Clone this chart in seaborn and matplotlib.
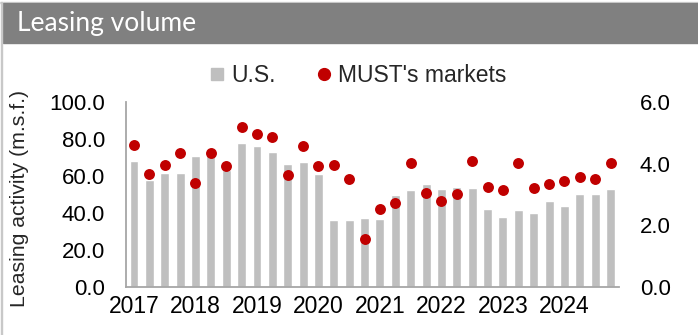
import numpy as np
import pandas as pd
import matplotlib
matplotlib.use("Agg")
import matplotlib.pyplot as plt
from matplotlib.lines import Line2D
from matplotlib.patches import Rectangle
from matplotlib.ticker import FormatStrFormatter
import seaborn as sns

# Quarterly leasing activity, 2017 Q1 - 2024 Q4
years = ["2017", "2018", "2019", "2020", "2021", "2022", "2023", "2024"]
quarters = [f"{y} Q{q}" for y in years for q in range(1, 5)]

# U.S. leasing volume (m.s.f., left axis)
us_volume = [68.1, 57.8, 61.4, 61.4, 70.8, 71.4, 63.2, 77.7,
             76.4, 72.8, 66.3, 67.4, 61.3, 36.4, 36.4, 37.5,
             36.9, 49.7, 52.6, 55.5, 53.1, 54.0, 53.7, 42.0,
             37.7, 41.8, 40.2, 46.5, 43.9, 50.3, 50.3, 53.1]

# MUST's markets leasing volume (m.s.f., right axis)
must_volume = [4.59, 3.68, 3.97, 4.34, 3.37, 4.34, 3.91, 5.19,
               4.95, 4.85, 3.63, 4.57, 3.92, 3.97, 3.51, 1.56,
               2.53, 2.71, 4.03, 3.06, 2.80, 3.03, 4.10, 3.24,
               3.13, 4.03, 3.21, 3.34, 3.45, 3.58, 3.51, 4.03]

left_ticks = [0, 20, 40, 60, 80, 100]
right_ticks = [0, 2, 4, 6]

df = pd.DataFrame({"quarter": quarters, "us": us_volume,
                   "must": must_volume, "pos": np.arange(len(quarters))})

sns.set_theme(style="white")
plt.rcParams["font.family"] = ["Liberation Sans", "DejaVu Sans"]

BAR = "#BFBFBF"
DOT = "#C00000"
SPINE = "#A6A6A6"
W, H = 698, 335

fig = plt.figure(figsize=(W / 100, H / 100), dpi=100)
fig.patch.set_facecolor("white")

# header band and frame
fig.patches.append(Rectangle((0, 1 - 3.2 / H), 1, 1.2 / H, transform=fig.transFigure,
                             color="#D9D9D9", zorder=0))
fig.patches.append(Rectangle((3 / W, 1 - 43 / H), 1, 40 / H, transform=fig.transFigure,
                             color="#808080", zorder=0))
fig.patches.append(Rectangle((0.8 / W, 0), 1.6 / W, 1 - 2 / H, transform=fig.transFigure,
                             color="#C8C8C8", zorder=0))
fig.text(17 / W, 1 - 23.5 / H, "Leasing volume", color="white", fontsize=19,
         family=["Lato", "DejaVu Sans"], fontweight="normal", va="center", ha="left",
         zorder=5)

ax = fig.add_axes([126 / W, 1 - 287 / H, (619 - 126) / W, (287 - 102) / H])
sns.barplot(data=df, x="quarter", y="us", color=BAR, width=0.58,
            saturation=1, ax=ax, zorder=2)
ax2 = ax.twinx()
sns.scatterplot(data=df, x="pos", y="must", color=DOT, s=62, linewidth=0,
                ax=ax2, zorder=3)

ax.set_xlim(-0.52, 31.55)
ax.set_ylim(0, 100)
ax2.set_ylim(0, 6)
ax.set_yticks(left_ticks)
ax2.set_yticks(right_ticks)
ax.yaxis.set_major_formatter(FormatStrFormatter("%.1f"))
ax2.yaxis.set_major_formatter(FormatStrFormatter("%.1f"))

ax.set_xticks(np.arange(0, len(quarters), 4))
ax.set_xticklabels(years)
ax.set_xlabel("")
ax.set_ylabel("")
ax2.set_xlabel("")
ax2.set_ylabel("")

ax.tick_params(axis="y", length=0, pad=15, labelsize=16, labelcolor="black")
ax2.tick_params(axis="y", length=0, pad=15, labelsize=16, labelcolor="black")
ax.tick_params(axis="x", length=0, pad=6, labelsize=16.5, labelcolor="black")

for s in ["top", "right"]:
    ax.spines[s].set_visible(False)
for s in ["left", "bottom"]:
    ax.spines[s].set_color(SPINE)
    ax.spines[s].set_linewidth(1.3)
for s in ax2.spines.values():
    s.set_visible(False)
ax.patch.set_alpha(0)
ax2.patch.set_alpha(0)

fig.text(20 / W, 1 - 198 / H, "Leasing activity (m.s.f.)", rotation=90,
         fontsize=15.3, va="center", ha="center")

handles = [Line2D([], [], marker="s", linestyle="none", color=BAR, markersize=9),
           Line2D([], [], marker="o", linestyle="none", color=DOT, markersize=8.5)]
fig.legend(handles, ["U.S.", "MUST's markets"], loc="center",
           bbox_to_anchor=(356 / W, 1 - 76 / H), ncol=2, frameon=False,
           fontsize=16.5, handletextpad=0.1, columnspacing=1.6, handlelength=1.0,
           borderpad=0)

fig.savefig("out.png", dpi=100, facecolor="white")
